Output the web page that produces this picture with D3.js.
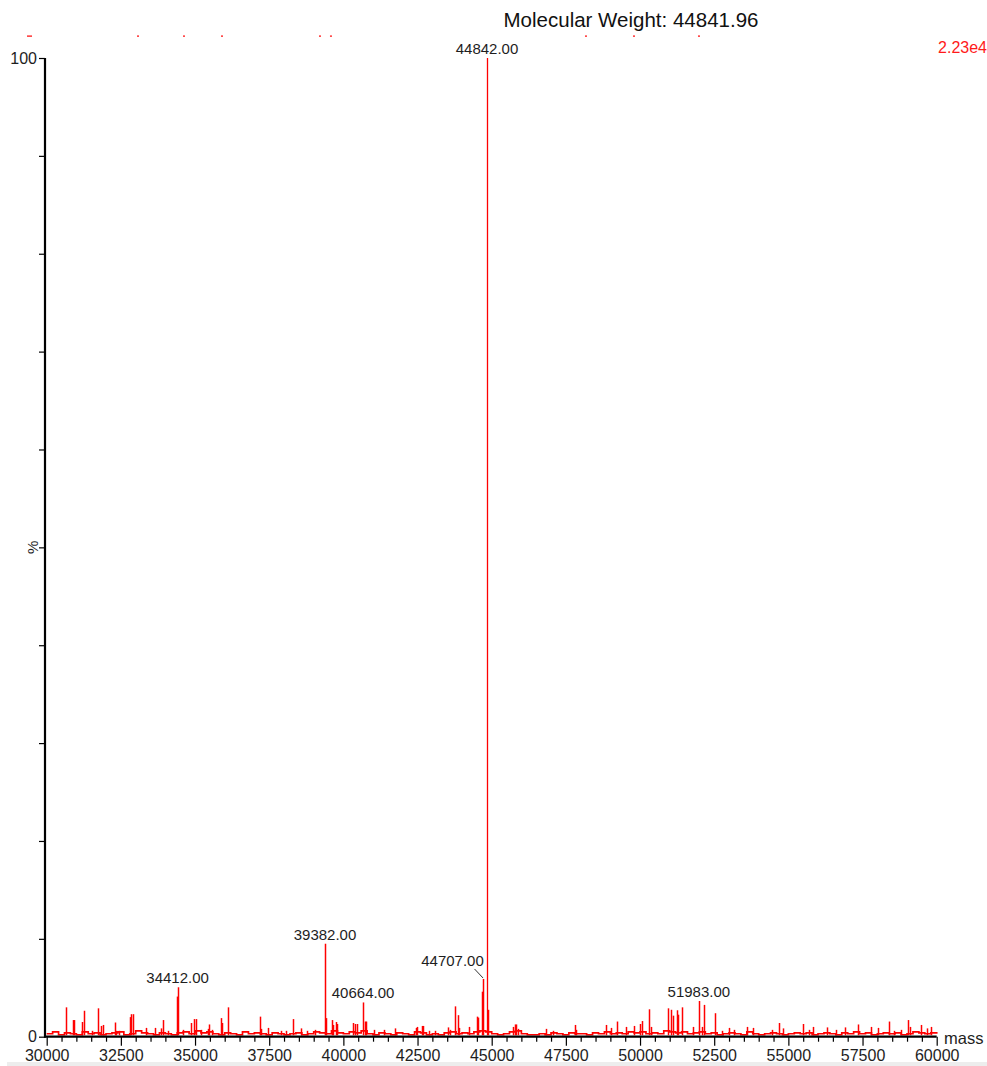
<!DOCTYPE html>
<html>
<head>
<meta charset="utf-8">
<script src="https://cdn.jsdelivr.net/npm/d3@7"></script>
<style>
  html, body { margin: 0; padding: 0; background: #fff; }
  svg { display: block; }
  text { font-family: "Liberation Sans", Arial, sans-serif; }
</style>
</head>
<body>
<svg id="chart" width="987" height="1066"></svg>
<script>
// ---------------- data ----------------
const title = "Molecular Weight: 44841.96";
const scaleLabel = "2.23e4";
const xTitle = "mass";
const yTitle = "%";
const xDomain = [30000, 60000];
const yDomain = [0, 100];
const xMajorTicks = [30000, 32500, 35000, 37500, 40000, 42500, 45000, 47500, 50000, 52500, 55000, 57500, 60000];
const yTicks = [0, 10, 20, 30, 40, 50, 60, 70, 80, 90, 100];
const yTickLabels = ["0", "", "", "", "", "", "", "", "", "", "100"];

// baseline noise: one reading every 200 Da from 30000 to 60000 (% of base peak)
const noiseStart = 30000;
const noiseStep = 200;
const noise = [
  0.3,0.5,0.2,0.4,0.3,0.2,0.5,0.3,0.4,0.2,
  0.3,0.4,0.5,0.2,0.3,0.6,0.4,0.3,0.2,0.4,
  0.3,0.2,0.4,0.5,0.3,0.6,0.4,0.5,0.3,0.2,
  0.4,0.3,0.2,0.5,0.3,0.4,0.3,0.2,0.4,0.3,
  0.2,0.3,0.4,0.2,0.3,0.5,0.4,0.3,0.6,0.4,
  0.3,0.5,0.4,0.6,0.3,0.2,0.4,0.3,0.2,0.4,
  0.3,0.2,0.5,0.4,0.2,0.3,0.2,0.4,0.5,0.3,
  0.4,0.3,0.5,0.6,0.5,0.3,0.2,0.3,0.5,0.6,
  0.3,0.2,0.2,0.3,0.2,0.4,0.3,0.2,0.4,0.3,
  0.3,0.2,0.4,0.3,0.5,0.3,0.4,0.3,0.5,0.4,
  0.5,0.3,0.4,0.3,0.6,0.5,0.4,0.5,0.3,0.4,
  0.5,0.3,0.4,0.2,0.3,0.4,0.3,0.2,0.5,0.3,
  0.2,0.3,0.4,0.3,0.2,0.3,0.4,0.3,0.4,0.2,
  0.3,0.4,0.3,0.2,0.4,0.3,0.5,0.3,0.4,0.2,
  0.3,0.4,0.3,0.4,0.2,0.3,0.5,0.4,0.3,0.4,
  0.3
];

// spikes: mass and relative intensity (%)
const peakMass = [
  30651,30876,30910,31180,31268,31517,31719,31847,31908,32302,32330,32440,32807,32850,32898,
  33347,33660,33863,33920,34100,34380,34412,34600,34864,34975,35032,35200,35427,35482,35560,
  35875,35905,36101,37189,37220,37449,37900,38050,38292,38572,38780,39050,39382,39410,39607,
  39640,39741,39775,40335,40392,40470,40664,40720,40777,41020,41360,41740,42460,42480,42650,
  42680,42880,43100,43536,43600,43762,43852,43890,44244,44514,44547,44683,44707,44842,44865,
  45730,45800,45830,45880,46820,47060,47808,47850,48853,49030,49235,49527,49808,49998,50055,
  50313,50360,50932,51045,51100,51236,51270,51425,51795,51983,52090,52156,52527,52760,53010,
  53160,53596,53820,54437,54694,54830,55503,55700,55820,56292,56600,56908,57336,57784,58030,
  58400,58560,58800,59043,59100,59460,59660,59810
];
const peakPct = [
  3.0,1.7,1.7,1.5,2.65,0.6,2.9,1.1,1.2,1.45,0.6,0.6,2.0,2.3,2.3,
  0.9,0.9,0.85,1.7,0.6,4.1,5.05,0.7,1.4,1.8,1.8,0.7,0.8,1.25,0.7,
  1.9,1.4,3.0,2.05,0.8,0.9,0.6,0.6,1.8,0.85,0.6,0.7,9.5,1.9,1.7,
  1.2,1.5,1.3,1.4,1.3,1.3,3.5,1.55,1.55,0.7,0.7,0.85,0.9,1.0,1.1,
  1.1,0.6,0.6,0.95,0.7,3.1,2.2,0.9,1.0,2.05,1.95,4.6,5.9,100,2.75,
  1.0,1.25,1.25,0.8,0.8,0.6,1.2,0.7,1.2,0.9,1.55,1.0,1.1,1.3,1.6,
  2.8,1.0,2.9,2.75,2.15,2.7,2.25,3.0,1.0,3.65,1.0,3.25,2.4,0.6,0.9,
  0.7,1.0,0.9,0.7,1.4,0.85,1.3,0.7,1.0,0.95,0.7,0.95,1.25,1.0,0.9,
  1.55,0.6,0.7,1.7,1.0,1.2,0.85,1.0
];

// annotated peaks
const labelMass = [44842, 39382, 34412, 44707, 40664, 51983];
const labelText = ["44842.00", "39382.00", "34412.00", "44707.00", "40664.00", "51983.00"];

// clipped fragments of a red header line at the very top
const headerMarkMass = [29370, 33078, 34628, 35909, 39212, 39582, 48178, 49796, 51987];

// ---------------- drawing ----------------
const svg = d3.select("#chart");
const W = 987, H = 1066;
const axisX = 45;          // y-axis position
const x = d3.scaleLinear().domain(xDomain).range([46.7, 936.7]);
const y = d3.scaleLinear().domain(yDomain).range([1036.7, 58]);
const red = "#ff0000";
const ink = "#1e1e1e";

// bottom grey strip
svg.append("rect").attr("x", 7).attr("y", 1062).attr("width", W - 7).attr("height", 4).attr("fill", "#ededed");

// title
svg.append("text").attr("x", 631).attr("y", 26.5).attr("text-anchor", "middle")
  .attr("font-size", 20.5).attr("fill", "#111").text(title);

// scale label
svg.append("text").attr("x", 987).attr("y", 53).attr("text-anchor", "end")
  .attr("font-size", 16).attr("fill", "#ff1a1a").text(scaleLabel);

// header fragments
svg.append("g").selectAll("rect").data(headerMarkMass).join("rect")
  .attr("x", d => x(d) - 1).attr("y", 35.5)
  .attr("width", (d, i) => i === 0 ? 5 : 2).attr("height", 1.2)
  .attr("fill", red);

// noise trace
const noisePts = noise.map((v, i) => [noiseStart + i * noiseStep, v]);
svg.append("path")
  .datum(noisePts)
  .attr("fill", "none").attr("stroke", red).attr("stroke-width", 1.7)
  .attr("d", d3.line().x(d => x(d[0])).y(d => y(d[1])).curve(d3.curveStepAfter));

// spikes
const peaks = peakMass.map((m, i) => ({ m, v: peakPct[i] }));
svg.append("g").selectAll("line").data(peaks).join("line")
  .attr("x1", d => Math.round(x(d.m)) + 0.5).attr("x2", d => Math.round(x(d.m)) + 0.5)
  .attr("y1", y(0.15)).attr("y2", d => y(d.v))
  .attr("stroke", red).attr("stroke-width", d => d.v > 50 ? 1.3 : 1.5);

// axes
const yAxis = d3.axisLeft(y).tickValues(yTicks).tickSize(6).tickSizeOuter(0).tickPadding(2)
  .tickFormat((d, i) => yTickLabels[i]);
const gy = svg.append("g").attr("transform", `translate(${axisX},0)`).call(yAxis);
gy.select(".domain").attr("stroke", "#000").attr("stroke-width", 2.2)
  .attr("d", `M0,${y(100)}V${y(0) + 1}`);
gy.selectAll(".tick line").attr("stroke", "#000").attr("stroke-width", 1.2);
gy.selectAll(".tick text").attr("font-size", 16).attr("fill", ink)
  .attr("font-family", "'Liberation Sans', Arial, sans-serif");

const minorTicks = d3.range(xDomain[0], xDomain[1] + 1, 500).filter(v => v % 2500 !== 0);
const gxMinor = svg.append("g").attr("transform", `translate(0,${y(0)})`)
  .call(d3.axisBottom(x).tickValues(minorTicks).tickSize(5).tickSizeOuter(0).tickFormat(""));
gxMinor.select(".domain").remove();
gxMinor.selectAll(".tick line").attr("stroke", "#000").attr("stroke-width", 1.2);

const gx = svg.append("g").attr("transform", `translate(0,${y(0)})`)
  .call(d3.axisBottom(x).tickValues(xMajorTicks).tickSize(9).tickSizeOuter(0).tickPadding(3.5)
    .tickFormat(d3.format("d")));
gx.select(".domain").attr("stroke", "#000").attr("stroke-width", 2.2)
  .attr("d", `M${axisX - 1},0H${x(60000)}`);
gx.selectAll(".tick line").attr("stroke", "#000").attr("stroke-width", 1.2);
gx.selectAll(".tick text").attr("font-size", 16).attr("fill", ink)
  .attr("font-family", "'Liberation Sans', Arial, sans-serif");

// axis titles
svg.append("text").attr("x", 944).attr("y", 1043.5).attr("font-size", 16.5).attr("fill", ink).text(xTitle);
svg.append("text").attr("transform", `translate(37.5,${y(50)}) rotate(-90)`).attr("text-anchor", "middle")
  .attr("font-size", 15).attr("fill", ink).text(yTitle);

// peak annotations
const pctOf = m => peaks.find(p => p.m === m).v;
const labelAdjust = { 44707: { dx: -30.5, dy: -13 } };
const lg = svg.append("g");
labelMass.forEach((m, i) => {
  const adj = labelAdjust[m] || { dx: 0, dy: -4 };
  const px = x(m), py = y(pctOf(m));
  lg.append("text").attr("x", px + adj.dx).attr("y", py + adj.dy)
    .attr("text-anchor", "middle").attr("font-size", 15).attr("fill", ink).text(labelText[i]);
  if (labelAdjust[m]) {
    lg.append("line").attr("x1", px - 8.5).attr("y1", py - 10).attr("x2", px).attr("y2", py - 1)
      .attr("stroke", "#333").attr("stroke-width", 1);
  }
});
</script>
</body>
</html>
